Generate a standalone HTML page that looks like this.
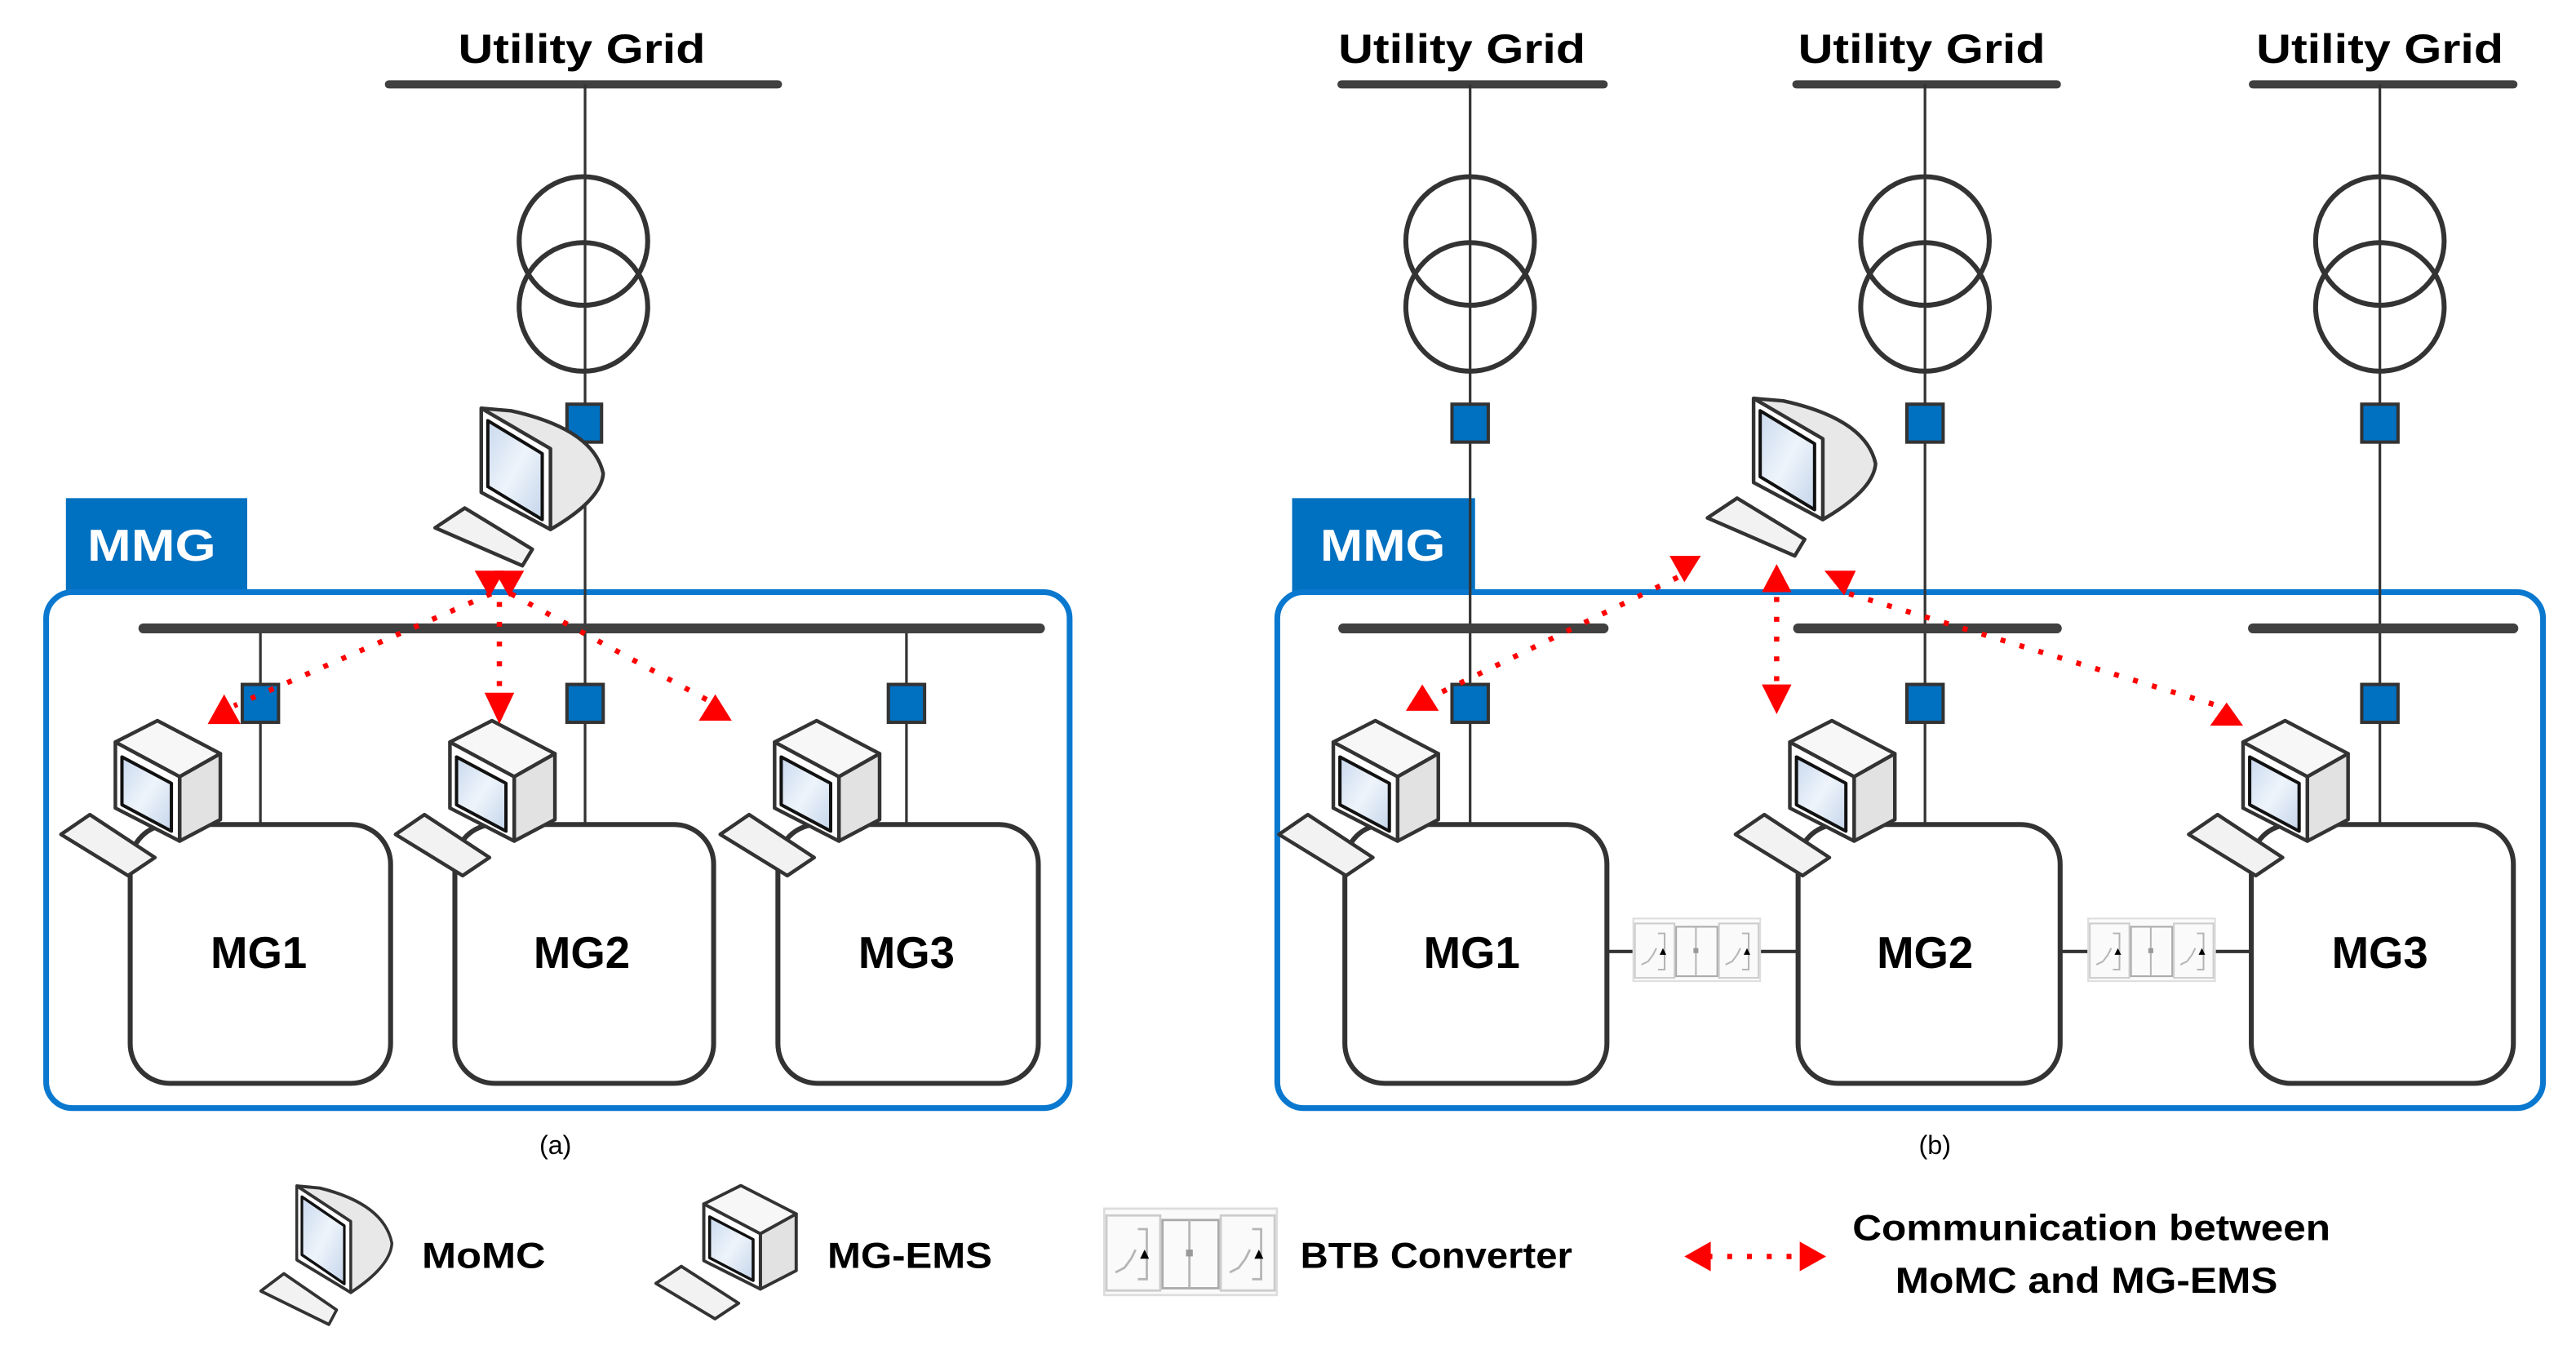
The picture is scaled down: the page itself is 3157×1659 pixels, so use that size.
<!DOCTYPE html>
<html><head><meta charset="utf-8"><style>html,body{margin:0;padding:0;background:#fff}svg{display:block}</style></head>
<body>
<svg width="3157" height="1659" viewBox="0 0 1563 821" xmlns="http://www.w3.org/2000/svg" font-family="Liberation Sans, sans-serif">
<defs>
<linearGradient id="scr" x1="0" y1="0" x2="1" y2="1"><stop offset="0" stop-color="#c9d9ee"/><stop offset="0.5" stop-color="#eef4fb"/><stop offset="1" stop-color="#c4d5ea"/></linearGradient>
<g id="ems" stroke="#333" stroke-width="2.2" stroke-linejoin="round">
 <polygon points="0,69 17.5,57 57,83 40.7,94" fill="#f2f2f2"/>
 <polygon points="33,13 58.5,0 96.7,20 72,34" fill="#f7f7f7"/>
 <polygon points="72,34 96.7,20 96.7,60 72,73" fill="#e2e2e2"/>
 <polygon points="33,13 72,34 72,73 33,53" fill="#fff"/>
 <polygon points="37,22 67,38 67,67 37,51" fill="url(#scr)" stroke="#111" stroke-width="2"/>
</g>
<g id="momc" stroke="#333" stroke-width="2.2" stroke-linejoin="round">
 <polygon points="-1,75 17,63 58,88 52,98" fill="#f2f2f2"/>
 <path d="M27,2.5 L45,4 Q95,15 101,42 Q100,58 69,76 Z" fill="#e8e8e8"/>
 <polygon points="27,2.5 69,27 69,76 27,53.5" fill="#fff"/>
 <polygon points="31,10 64,30 64,70 31,50" fill="url(#scr)" stroke="#111" stroke-width="2"/>
</g>
<g id="btb" fill="none" stroke="#b5b5b5" stroke-width="1">
 <rect x="0" y="0" width="77" height="38" fill="#fafafa" stroke="#ddd"/>
 <rect x="1" y="3" width="24" height="33" stroke="#ccc"/>
 <rect x="26" y="5" width="25" height="30" stroke="#aaa"/>
 <rect x="52" y="3" width="24" height="33" stroke="#ccc"/>
 <line x1="38" y1="5" x2="38" y2="35"/>
 <polyline points="5,28 9,26 12,22 14,18"/><polyline points="15,9 19,9 19,31 15,31"/>
 <polyline points="56,28 60,26 63,22 65,18"/><polyline points="66,9 70,9 70,31 66,31"/>
 <polygon points="18,18 20,22 16,22" fill="#000" stroke="none"/>
 <polygon points="69,18 71,22 67,22" fill="#000" stroke="none"/>
 <rect x="36.5" y="18" width="3" height="3" fill="#999" stroke="none"/>
</g>
</defs>

<g fill="#000" font-weight="bold" font-size="25">
<text x="278" y="38" textLength="150" lengthAdjust="spacingAndGlyphs">Utility Grid</text>
<text x="812" y="38" textLength="150" lengthAdjust="spacingAndGlyphs">Utility Grid</text>
<text x="1091" y="38" textLength="150" lengthAdjust="spacingAndGlyphs">Utility Grid</text>
<text x="1369" y="38" textLength="150" lengthAdjust="spacingAndGlyphs">Utility Grid</text>
</g>

<g stroke="#404040" stroke-width="5" stroke-linecap="round">
<line x1="236" y1="51" x2="472" y2="51"/>
<line x1="814" y1="51" x2="973" y2="51"/>
<line x1="1090" y1="51" x2="1248" y2="51"/>
<line x1="1367" y1="51" x2="1525" y2="51"/>
</g>

<!-- MMG containers -->
<rect x="40" y="302" width="110" height="58" fill="#0070c0"/>
<rect x="784" y="302" width="111" height="58" fill="#0070c0"/>
<rect x="28" y="359" width="621" height="313" rx="16" fill="none" stroke="#0a78cf" stroke-width="3.5"/>
<rect x="775" y="359" width="768" height="313" rx="16" fill="none" stroke="#0a78cf" stroke-width="3.5"/>
<g fill="#fff" font-weight="bold" font-size="27">
<text x="53" y="340" textLength="78" lengthAdjust="spacingAndGlyphs">MMG</text>
<text x="801" y="340" textLength="76" lengthAdjust="spacingAndGlyphs">MMG</text>
</g>

<!-- vertical lines -->
<g stroke="#333" stroke-width="1.6">
<line x1="355" y1="51" x2="355" y2="500"/>
<line x1="158" y1="381" x2="158" y2="500"/>
<line x1="550" y1="381" x2="550" y2="500"/>
<line x1="892" y1="51" x2="892" y2="500"/>
<line x1="1168" y1="51" x2="1168" y2="500"/>
<line x1="1444" y1="51" x2="1444" y2="500"/>
</g>
<!-- transformers -->
<g fill="none" stroke="#333" stroke-width="3">
<circle cx="354" cy="146" r="39"/><circle cx="354" cy="186" r="39"/>
<circle cx="892" cy="146" r="39"/><circle cx="892" cy="186" r="39"/>
<circle cx="1168" cy="146" r="39"/><circle cx="1168" cy="186" r="39"/>
<circle cx="1444" cy="146" r="39"/><circle cx="1444" cy="186" r="39"/>
</g>
<!-- buses -->
<g stroke="#404040" stroke-width="6" stroke-linecap="round">
<line x1="87" y1="381" x2="631" y2="381"/>
<line x1="815" y1="381" x2="973" y2="381"/>
<line x1="1091" y1="381" x2="1248" y2="381"/>
<line x1="1367" y1="381" x2="1525" y2="381"/>
</g>
<!-- breakers -->
<g fill="#0070c0" stroke="#333" stroke-width="2">
<rect x="344" y="245" width="21" height="23"/>
<rect x="147" y="415" width="22" height="23"/><rect x="344" y="415" width="22" height="23"/><rect x="539" y="415" width="22" height="23"/>
<rect x="881" y="245" width="22" height="23"/><rect x="1157" y="245" width="22" height="23"/><rect x="1433" y="245" width="22" height="23"/>
<rect x="881" y="415" width="22" height="23"/><rect x="1157" y="415" width="22" height="23"/><rect x="1433" y="415" width="22" height="23"/>
</g>

<!-- BTB connections -->
<g stroke="#333" stroke-width="2">
<line x1="975" y1="577" x2="1090" y2="577"/>
<line x1="1250" y1="577" x2="1366" y2="577"/>
</g>
<use href="#btb" x="991" y="557"/>
<use href="#btb" x="1267" y="557"/>

<!-- MG boxes -->
<g fill="#fff" stroke="#333" stroke-width="3">
<rect x="79" y="500" width="158" height="157" rx="24"/>
<rect x="276" y="500" width="157" height="157" rx="24"/>
<rect x="472" y="500" width="158" height="157" rx="24"/>
<rect x="816" y="500" width="159" height="157" rx="24"/>
<rect x="1091" y="500" width="159" height="157" rx="24"/>
<rect x="1366" y="500" width="159" height="157" rx="24"/>
</g>
<g fill="#000" font-weight="bold" font-size="27" text-anchor="middle">
<text x="157" y="587">MG1</text><text x="353" y="587">MG2</text><text x="550" y="587">MG3</text>
<text x="893" y="587">MG1</text><text x="1168" y="587">MG2</text><text x="1444" y="587">MG3</text>
</g>

<!-- EMS computers -->
<use href="#ems" x="37" y="437"/><use href="#ems" x="240" y="437"/><use href="#ems" x="437" y="437"/>
<use href="#ems" x="776" y="437"/><use href="#ems" x="1053" y="437"/><use href="#ems" x="1328" y="437"/>
<!-- MoMC -->
<use href="#momc" x="265" y="245"/>
<use href="#momc" x="1037" y="239"/>

<!-- communication arrows -->
<g stroke="#ff0000" stroke-width="3.2" stroke-dasharray="3 9" fill="none">
<line x1="298" y1="360" x2="142" y2="428"/>
<line x1="303" y1="365" x2="303" y2="420"/>
<line x1="310" y1="360" x2="432" y2="426"/>
<line x1="1018" y1="350" x2="874" y2="420"/>
<line x1="1078" y1="362" x2="1078" y2="415"/>
<line x1="1122" y1="360" x2="1346" y2="428"/>
</g>
<g fill="#ff0000">
<polygon points="288,346 306,346 297,362"/><polygon points="300,346 318,346 309,362"/>
<polygon points="136,421 146,439 126,439"/>
<polygon points="294,420 312,420 303,439"/>
<polygon points="434,421 444,437 424,437"/>
<polygon points="1013,337 1032,337 1022,353"/>
<polygon points="1078,342 1087,359 1069,359"/>
<polygon points="1069,415 1087,415 1078,433"/>
<polygon points="1107,346 1126,346 1119,361"/>
<polygon points="863,415 873,431 853,431"/>
<polygon points="1351,426 1361,440 1341,440"/>
</g>

<g fill="#000" font-size="16" text-anchor="middle">
<text x="337" y="700">(a)</text><text x="1174" y="700">(b)</text>
</g>

<!-- legend -->
<g transform="translate(159,717) scale(0.78,0.88)"><use href="#momc" x="0" y="0"/></g>
<g transform="translate(398,719) scale(0.88,0.86)"><use href="#ems" x="0" y="0"/></g>
<g transform="translate(670,733) scale(1.36,1.38)"><use href="#btb" x="0" y="0"/></g>
<g fill="#000" font-weight="bold" font-size="22">
<text x="256" y="769" textLength="75" lengthAdjust="spacingAndGlyphs">MoMC</text>
<text x="502" y="769" textLength="100" lengthAdjust="spacingAndGlyphs">MG-EMS</text>
<text x="789" y="769" textLength="165" lengthAdjust="spacingAndGlyphs">BTB Converter</text>
<text x="1124" y="752" textLength="290" lengthAdjust="spacingAndGlyphs">Communication between</text>
<text x="1150" y="784" textLength="232" lengthAdjust="spacingAndGlyphs">MoMC and MG-EMS</text>
</g>
<line x1="1036" y1="762" x2="1094" y2="762" stroke="#ff0000" stroke-width="3.2" stroke-dasharray="3 9"/>
<polygon points="1022,762 1038,753 1038,771" fill="#ff0000"/>
<polygon points="1108,762 1092,753 1092,771" fill="#ff0000"/>
</svg>
</body></html>
